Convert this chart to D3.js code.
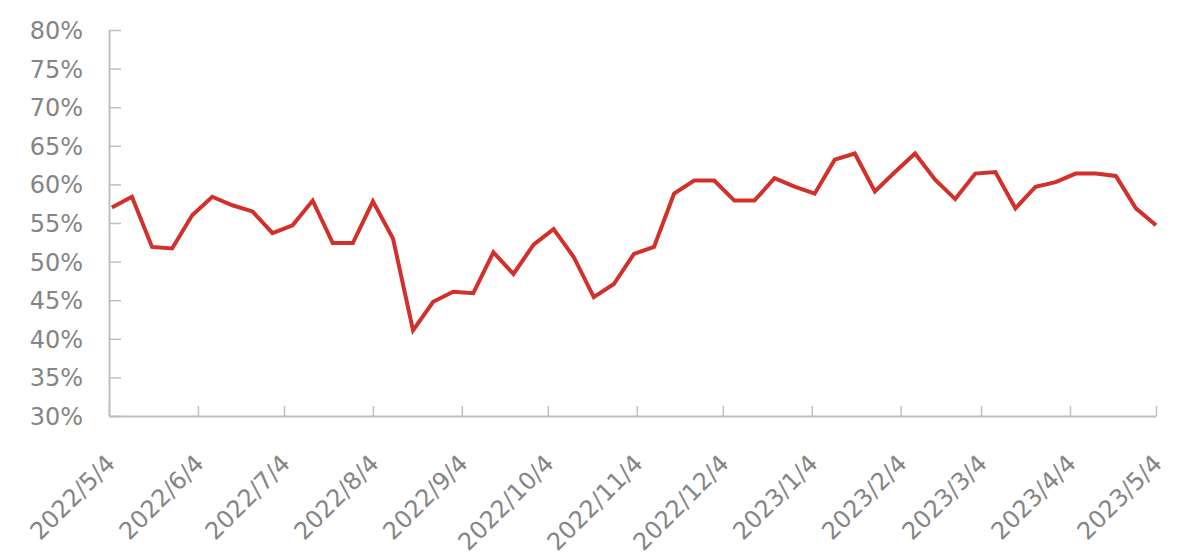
<!DOCTYPE html>
<html>
<head>
<meta charset="utf-8">
<script src="https://cdn.jsdelivr.net/npm/d3@7"></script>
<style>
  html, body { margin: 0; padding: 0; background: #fff; }
</style>
</head>
<body>
<div id="chart"></div>
<script>
// Weekly observation dates.
const dates = [
    "2022-05-05", "2022-05-12", "2022-05-19", "2022-05-26", "2022-06-02", "2022-06-09",
    "2022-06-16", "2022-06-23", "2022-06-30", "2022-07-07", "2022-07-14", "2022-07-21",
    "2022-07-28", "2022-08-04", "2022-08-11", "2022-08-18", "2022-08-25", "2022-09-01",
    "2022-09-08", "2022-09-15", "2022-09-22", "2022-09-29", "2022-10-06", "2022-10-13",
    "2022-10-20", "2022-10-27", "2022-11-03", "2022-11-10", "2022-11-17", "2022-11-24",
    "2022-12-01", "2022-12-08", "2022-12-15", "2022-12-22", "2022-12-29", "2023-01-05",
    "2023-01-12", "2023-01-19", "2023-01-26", "2023-02-02", "2023-02-09", "2023-02-16",
    "2023-02-23", "2023-03-02", "2023-03-09", "2023-03-16", "2023-03-23", "2023-03-30",
    "2023-04-06", "2023-04-13", "2023-04-20", "2023-04-27", "2023-05-04"
];

// Values in percent.
const values = [
    57.0, 58.4, 51.9, 51.7, 56.0, 58.4, 57.3, 56.5, 53.7, 54.7,
    57.9, 52.4, 52.4, 57.8, 53.0, 41.1, 44.8, 46.1, 45.9, 51.2,
    48.4, 52.2, 54.2, 50.6, 45.4, 47.1, 51.0, 51.9, 58.8, 60.5,
    60.5, 57.9, 57.9, 60.8, 59.7, 58.8, 63.2, 64.0, 59.1, 61.6,
    64.0, 60.6, 58.1, 61.4, 61.6, 56.9, 59.7, 60.3, 61.4, 61.4,
    61.1, 56.9, 54.7
];

// Axis ticks.
const xTickDates = [
    "2022-05-04", "2022-06-04", "2022-07-04", "2022-08-04", "2022-09-04", "2022-10-04",
    "2022-11-04", "2022-12-04", "2023-01-04", "2023-02-04", "2023-03-04", "2023-04-04",
    "2023-05-04"
];
const xTickLabels = [
    "2022/5/4", "2022/6/4", "2022/7/4", "2022/8/4", "2022/9/4", "2022/10/4",
    "2022/11/4", "2022/12/4", "2023/1/4", "2023/2/4", "2023/3/4", "2023/4/4",
    "2023/5/4"
];
const yTicks = [30, 35, 40, 45, 50, 55, 60, 65, 70, 75, 80];

const width = 1200;
const height = 558;
const marginTop = 30;
const marginRight = 44;
const marginBottom = 142;
const marginLeft = 109;

const parse = d3.utcParse("%Y-%m-%d");
const data = dates.map((d, i) => ({ date: parse(d), value: values[i] }));
const tickDates = xTickDates.map(parse);

const x = d3.scaleUtc()
    .domain([tickDates[0], tickDates[tickDates.length - 1]])
    .range([marginLeft, width - marginRight]);

const y = d3.scaleLinear()
    .domain([30, 80])
    .range([height - marginBottom, marginTop]);

const svg = d3.select("#chart").append("svg")
    .attr("width", width)
    .attr("height", height)
    .attr("viewBox", [0, 0, width, height]);

const fontFamily = "'DejaVu Sans', sans-serif";
const axisColor = "#bfbfbf";
const labelColor = "#858585";

// Y axis, ticks pointing inwards.
svg.append("g")
    .attr("transform", `translate(${marginLeft},0)`)
    .call(d3.axisLeft(y).tickValues(yTicks).tickSize(-12).tickSizeOuter(0).tickPadding(26)
        .tickFormat(d => d + "%"))
    .attr("font-family", fontFamily)
    .attr("font-size", 24)
    .call(g => g.select(".domain").attr("stroke", axisColor).attr("stroke-width", 2))
    .call(g => g.selectAll(".tick line").attr("stroke", axisColor).attr("stroke-width", 1.5))
    .call(g => g.selectAll(".tick text")
        .attr("fill", labelColor)
        .attr("dy", "0.35em"));

// X axis, ticks pointing up, labels rotated.
svg.append("g")
    .attr("transform", `translate(0,${height - marginBottom})`)
    .call(d3.axisBottom(x).tickValues(tickDates).tickSize(-10).tickSizeOuter(0)
        .tickFormat((d, i) => xTickLabels[i]))
    .attr("font-family", fontFamily)
    .attr("font-size", 24)
    .call(g => g.select(".domain").attr("stroke", axisColor).attr("stroke-width", 2))
    .call(g => g.selectAll(".tick line").attr("stroke", axisColor).attr("stroke-width", 1.5))
    .call(g => g.selectAll(".tick text")
        .attr("fill", labelColor)
        .attr("text-anchor", "end")
        .attr("x", 0)
        .attr("y", 0)
        .attr("dy", 0)
        .attr("transform", "translate(7,49) rotate(-45)"));

// The series line.
const line = d3.line()
    .x(d => x(d.date))
    .y(d => y(d.value));

svg.append("path")
    .datum(data)
    .attr("fill", "none")
    .attr("stroke", "#d2302a")
    .attr("stroke-width", 4)
    .attr("stroke-linejoin", "miter")
    .attr("d", line);
</script>
</body>
</html>
